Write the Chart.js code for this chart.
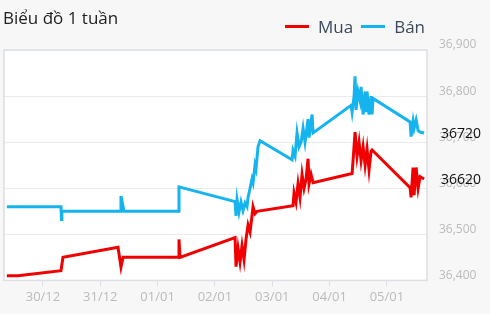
<!DOCTYPE html>
<html lang="vi">
<head>
<meta charset="UTF-8">
<title>Biểu đồ 1 tuần</title>
<script src="https://cdn.jsdelivr.net/npm/chart.js@4"></script>
<style>
  * { margin: 0; padding: 0; box-sizing: border-box; }
  body { background: #f7f7f7; width: 490px; height: 314px; overflow: hidden; position: relative; font-family: 'Open Sans', sans-serif; }
  #chart { position: absolute; left: 0; top: 0; }
  .title { position: absolute; left: 3px; top: 6px; font-size: 17px; color: #222; }
  .legend { position: absolute; left: 285px; top: 15px; font-size: 17px; color: #3b4a5e; display: flex; align-items: center; }
  .legend span.line { display: inline-block; width: 24px; height: 3px; margin-right: 9px; }
  .legend span.lbl { margin-right: 8px; }
</style>
</head>
<body>
<canvas id="chart" width="490" height="314"></canvas>
<div class="title">Biểu đồ 1 tuần</div>
<div class="legend">
  <span class="line" style="background:#f00000"></span><span class="lbl">Mua</span>
  <span class="line" style="background:#15b4ee"></span><span class="lbl">Bán</span>
</div>
<script>
// x = days since 30/12 00:00
const dayLabels = ['30/12', '31/12', '01/01', '02/01', '03/01', '04/01', '05/01'];
const yTicks = [36400, 36500, 36600, 36700, 36800, 36900];

const buyTimes = [-0.63, -0.436, 0.314, 0.349, 1.309, 1.361, 1.396, 2.356, 2.373, 2.391,
  3.351, 3.368, 3.403, 3.438, 3.473, 3.508, 3.543, 3.578, 3.613, 3.647, 3.665, 3.7, 3.735,
  4.363, 4.38, 4.415, 4.45, 4.485, 4.52, 4.555, 4.59, 4.625, 4.642, 4.677, 4.712,
  5.393, 5.41, 5.445, 5.48, 5.515, 5.55, 5.585, 5.62, 5.654, 5.689, 5.724, 5.742,
  6.405, 6.422, 6.457, 6.475, 6.51, 6.545, 6.579, 6.649];
const buyValues = [36410, 36410, 36421, 36450, 36472, 36429, 36450, 36450, 36489, 36450,
  36493, 36430, 36470, 36440, 36475, 36445, 36490, 36520, 36505, 36540, 36560, 36545, 36550,
  36562, 36590, 36570, 36610, 36580, 36630, 36600, 36620, 36664, 36610, 36630, 36612,
  36632, 36660, 36722, 36670, 36700, 36660, 36690, 36650, 36685, 36640, 36680, 36683,
  36601, 36580, 36645, 36585, 36645, 36600, 36625, 36620];

const sellTimes = [-0.63, 0.314, 0.323, 0.33, 1.344, 1.361, 1.414, 2.356, 2.373,
  3.351, 3.368, 3.386, 3.42, 3.455, 3.49, 3.525, 3.56, 3.578, 3.613, 3.647, 3.665, 3.7, 3.717, 3.752, 3.787,
  4.346, 4.363, 4.398, 4.433, 4.468, 4.503, 4.538, 4.572, 4.625, 4.642, 4.695, 4.712,
  5.375, 5.393, 5.428, 5.445, 5.462, 5.497, 5.532, 5.55, 5.585, 5.62, 5.637, 5.654, 5.689, 5.724, 5.742, 5.759,
  6.405, 6.422, 6.457, 6.475, 6.51, 6.545, 6.579, 6.649];
const sellValues = [36560, 36560, 36532, 36550, 36550, 36583, 36550, 36550, 36603,
  36571, 36540, 36575, 36548, 36570, 36552, 36568, 36560, 36580, 36600, 36620, 36612, 36650, 36642, 36690, 36703,
  36662, 36682, 36670, 36720, 36690, 36700, 36730, 36700, 36750, 36710, 36760, 36720,
  36780, 36765, 36800, 36843, 36770, 36810, 36790, 36820, 36760, 36810, 36765, 36810, 36760, 36800, 36760, 36795,
  36744, 36712, 36745, 36730, 36748, 36725, 36722, 36720];

const toPoints = (xs, ys) => xs.map((x, i) => ({ x, y: ys[i] }));

const plotFrame = {
  id: 'plotFrame',
  beforeDraw(chart) {
    const { ctx, chartArea: a } = chart;
    ctx.save();
    ctx.fillStyle = '#f7f7f7';
    ctx.fillRect(0, 0, chart.width, chart.height);
    ctx.fillStyle = '#ffffff';
    ctx.fillRect(a.left, a.top, a.right - a.left, a.bottom - a.top);
    ctx.restore();
  },
  beforeDatasetsDraw(chart) {
    const { ctx, chartArea: a } = chart;
    ctx.save();
    ctx.strokeStyle = '#dcdfe3';
    ctx.lineWidth = 1.5;
    ctx.strokeRect(a.left, a.top, a.right - a.left, a.bottom - a.top);
    ctx.restore();
  }
};

const lastValues = {
  id: 'lastValues',
  afterDraw(chart) {
    const { ctx } = chart;
    const y = chart.scales.y;
    ctx.save();
    ctx.font = '14px "Open Sans", sans-serif';
    ctx.fillStyle = '#111';
    ctx.textBaseline = 'middle';
    [sellValues[sellValues.length - 1], buyValues[buyValues.length - 1]].forEach(v => {
      ctx.fillText(String(v), chart.chartArea.right + 14, y.getPixelForValue(v) + 1);
    });
    ctx.restore();
  }
};

new Chart(document.getElementById('chart'), {
  type: 'line',
  data: {
    datasets: [
      { label: 'Mua', data: toPoints(buyTimes, buyValues), borderColor: '#f00000', borderWidth: 3, pointRadius: 0, tension: 0 },
      { label: 'Bán', data: toPoints(sellTimes, sellValues), borderColor: '#15b4ee', borderWidth: 3, pointRadius: 0, tension: 0 }
    ]
  },
  options: {
    responsive: false,
    animation: false,
    layout: { padding: { top: 50, left: 4, right: 0, bottom: 6 } },
    plugins: { legend: { display: false }, tooltip: { enabled: false } },
    scales: {
      x: {
        type: 'linear',
        min: -0.68,
        max: 6.7,
        afterBuildTicks: s => { s.ticks = dayLabels.map((_, i) => ({ value: i })); },
        ticks: { callback: (v) => dayLabels[v] ?? '', color: '#bbb', font: { family: 'Open Sans', size: 13 }, padding: 3, maxRotation: 0 },
        grid: { drawOnChartArea: false, drawTicks: true, tickLength: 6, color: '#dcdfe3' },
        border: { display: false }
      },
      y: {
        position: 'right',
        min: 36400,
        max: 36900,
        afterBuildTicks: s => { s.ticks = yTicks.map(v => ({ value: v })); },
        afterFit: s => { s.width = 63; },
        ticks: { callback: v => v.toLocaleString('en-US'), color: '#bbb', font: { family: 'Open Sans', size: 12 }, padding: 12, labelOffset: -5 },
        grid: { color: '#ebebeb', drawTicks: false },
        border: { display: false }
      }
    }
  },
  plugins: [plotFrame, lastValues]
});
</script>
</body>
</html>
